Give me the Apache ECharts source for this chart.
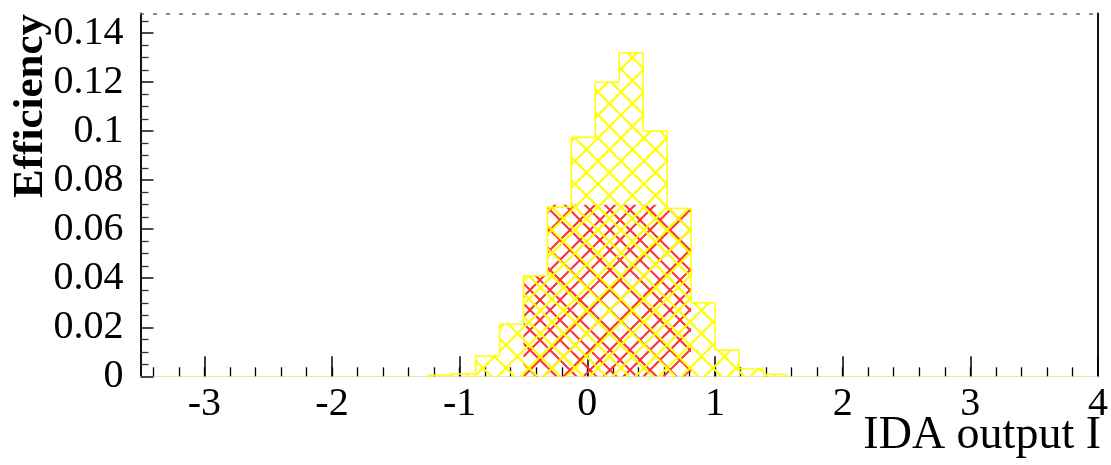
<!DOCTYPE html>
<html>
<head>
<meta charset="utf-8">
<script src="https://cdn.jsdelivr.net/npm/echarts@6/dist/echarts.min.js"></script>
<style>
  html, body { margin: 0; padding: 0; background: #ffffff; }
  #chart { width: 1111px; height: 465px; }
</style>
</head>
<body>
<div id="chart"></div>
<script>
// ---- data ----
const binWidth = 0.1875;
const binStarts = [-1.25, -1.0625, -0.875, -0.6875, -0.5, -0.3125, -0.125, 0.0625, 0.25, 0.4375, 0.625, 0.8125, 1.0, 1.1875, 1.375];
const yellowValues = [0.0005, 0.001, 0.0083, 0.0213, 0.041, 0.069, 0.0975, 0.120, 0.132, 0.100, 0.0685, 0.030, 0.0107, 0.003, 0.0008];
const redValues    = [0, 0, 0, 0, 0.041, 0.070, 0.070, 0.070, 0.070, 0.070, 0.068, 0, 0, 0, 0];

const xMajorTicks = [-3, -2, -1, 0, 1, 2, 3, 4];
const xMinorTicks = [-3.4, -3.2, -3.0, -2.8, -2.6, -2.4, -2.2, -2.0, -1.8, -1.6, -1.4, -1.2, -1.0, -0.8, -0.6, -0.4, -0.2, 0,
                     0.2, 0.4, 0.6, 0.8, 1.0, 1.2, 1.4, 1.6, 1.8, 2.0, 2.2, 2.4, 2.6, 2.8, 3.0, 3.2, 3.4, 3.6, 3.8];
const yMajorTicks = [0, 0.02, 0.04, 0.06, 0.08, 0.1, 0.12, 0.14];
const yMinorTicks = [0.005, 0.01, 0.015, 0.025, 0.03, 0.035, 0.045, 0.05, 0.055, 0.065, 0.07, 0.075,
                     0.085, 0.09, 0.095, 0.105, 0.11, 0.115, 0.125, 0.13, 0.135, 0.145];
const xTitle = 'IDA output I';
const yTitle = 'Efficiency';

// ---- hatch patterns ----
function makeHatch(size, color, lw) {
  const c = document.createElement('canvas');
  c.width = size; c.height = size;
  const g = c.getContext('2d');
  g.strokeStyle = color; g.lineWidth = lw;
  g.beginPath();
  g.moveTo(-1, -1); g.lineTo(size + 1, size + 1);
  g.moveTo(size + 1, -1); g.lineTo(-1, size + 1);
  g.stroke();
  return c;
}
const yellowHatch = makeHatch(23, '#ffff00', 2.2);
const redHatch = makeHatch(20, '#ff3030', 2);

function histData(values) {
  return binStarts.map((s, i) => [s, s + binWidth, values[i]]);
}

function makeRender(values, pattern, lineColor) {
  return function (params, api) {
    const i = params.dataIndex;
    const x0 = api.value(0), x1 = api.value(1), y = api.value(2);
    if (!y) return null;
    const p0 = api.coord([x0, y]);
    const p1 = api.coord([x1, 0]);
    const children = [{
      type: 'rect',
      shape: { x: p0[0], y: p0[1], width: p1[0] - p0[0], height: p1[1] - p0[1] },
      style: { fill: { image: pattern, repeat: 'repeat' } }
    }];
    if (lineColor) {
      const prev = i > 0 ? values[i - 1] : 0;
      const pPrev = api.coord([x0, prev]);
      const next = i < values.length - 1 ? values[i + 1] : 0;
      children.push({
        type: 'line',
        shape: { x1: p0[0], y1: p0[1], x2: p1[0], y2: p0[1] },
        style: { stroke: lineColor, lineWidth: 1.5 }
      }, {
        type: 'line',
        shape: { x1: p0[0], y1: p0[1], x2: p0[0], y2: pPrev[1] },
        style: { stroke: lineColor, lineWidth: 1.5 }
      });
      if (!next) {
        children.push({
          type: 'line',
          shape: { x1: p1[0], y1: p0[1], x2: p1[0], y2: p1[1] },
          style: { stroke: lineColor, lineWidth: 1.5 }
        });
      }
    }
    return { type: 'group', children: children };
  };
}

const serif = '"Liberation Serif", "DejaVu Serif", serif';
const chart = echarts.init(document.getElementById('chart'));

const baseX = { type: 'value', min: -3.5, max: 4, splitLine: { show: false } };
const baseY = { type: 'value', min: 0, max: 0.148, splitLine: { show: false } };

chart.setOption({
  animation: false,
  backgroundColor: '#ffffff',
  grid: { left: 140.5, right: 13, top: 13.5, bottom: 88.7, containLabel: false },
  xAxis: [
    Object.assign({}, baseX, {
      position: 'bottom',
      axisLine: { show: true, onZero: false, lineStyle: { color: '#e6e6b0', width: 1 } },
      axisTick: { show: true, inside: true, length: 20, customValues: xMajorTicks, lineStyle: { color: '#000', width: 1.5 } },
      axisLabel: { show: true, customValues: xMajorTicks, margin: 8, color: '#000', fontFamily: serif, fontSize: 40 }
    }),
    Object.assign({}, baseX, {
      position: 'bottom',
      axisLine: { show: false, onZero: false },
      axisTick: { show: true, inside: true, length: 9, customValues: xMinorTicks, lineStyle: { color: '#000', width: 1.3 } },
      axisLabel: { show: false }
    }),
    Object.assign({}, baseX, {
      position: 'top',
      axisLine: { show: true, onZero: false, lineStyle: { color: '#666', width: 1.5, type: [3, 10] } },
      axisTick: { show: false },
      axisLabel: { show: false }
    })
  ],
  yAxis: [
    Object.assign({}, baseY, {
      position: 'left',
      axisLine: { show: true, onZero: false, lineStyle: { color: '#111', width: 2 } },
      axisTick: { show: true, inside: true, length: 13, customValues: yMajorTicks, lineStyle: { color: '#111', width: 1.5 } },
      axisLabel: { show: true, customValues: yMajorTicks, margin: 17, color: '#000', fontFamily: serif, fontSize: 40 }
    }),
    Object.assign({}, baseY, {
      position: 'left',
      axisLine: { show: false, onZero: false },
      axisTick: { show: true, inside: true, length: 8, customValues: yMinorTicks, lineStyle: { color: '#333', width: 1.3 } },
      axisLabel: { show: false }
    }),
    Object.assign({}, baseY, {
      position: 'right',
      axisLine: { show: true, onZero: false, lineStyle: { color: '#111', width: 2 } },
      axisTick: { show: false },
      axisLabel: { show: false }
    })
  ],
  series: [
    {
      type: 'custom', name: 'red', xAxisIndex: 0, yAxisIndex: 0,
      encode: { x: [0, 1], y: 2 },
      renderItem: makeRender(redValues, redHatch, null),
      data: histData(redValues), z: 2
    },
    {
      type: 'custom', name: 'yellow', xAxisIndex: 0, yAxisIndex: 0,
      encode: { x: [0, 1], y: 2 },
      renderItem: makeRender(yellowValues, yellowHatch, '#ffff00'),
      data: histData(yellowValues), z: 3
    }
  ],
  graphic: [
    {
      type: 'text', x: 31, y: 14, rotation: Math.PI / 2,
      style: { text: yTitle, font: 'bold 43px ' + serif, fill: '#000', align: 'right', verticalAlign: 'middle' }
    },
    {
      type: 'text', x: 1101, y: 436,
      style: { text: xTitle, font: '46px ' + serif, fill: '#000', align: 'right', verticalAlign: 'middle' }
    }
  ]
});
</script>
</body>
</html>
